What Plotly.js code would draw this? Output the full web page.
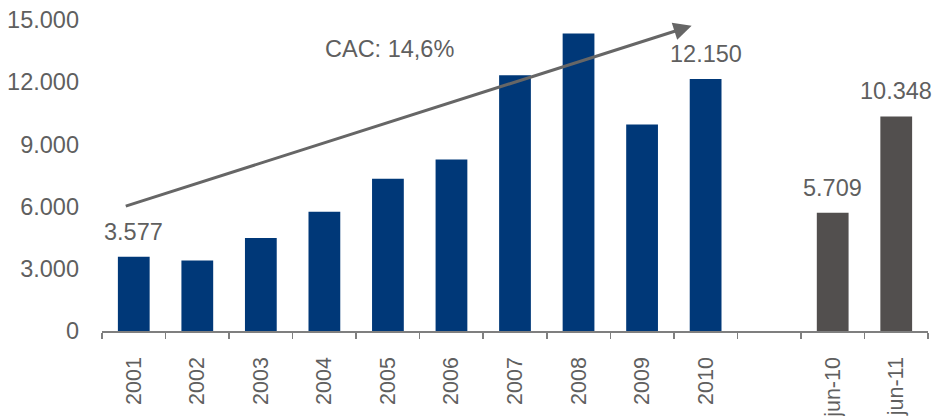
<!DOCTYPE html>
<html>
<head>
<meta charset="utf-8">
<script src="https://cdn.plot.ly/plotly-3.0.1.min.js"></script>
<style>html,body{margin:0;padding:0;background:#fff;}#chart{width:933px;height:416px;}</style>
</head>
<body>
<div id="chart"></div>
<script>
// Categories (the blank " " category is the gap in the reference)
const annualYears = ["2001","2002","2003","2004","2005","2006","2007","2008","2009","2010"];
const annualValues = [3577, 3404, 4489, 5748, 7346, 8266, 12334, 14349, 9961, 12150];
const gapCategory = [" "];
const midYearLabels = ["jun-10","jun-11"];
const midYearValues = [5709, 10348];
const labelledCategories = ["2001","2010","jun-10","jun-11"];
const labelledValues = [3577, 12150, 5709, 10348];
const yTickValues = [0, 3000, 6000, 9000, 12000, 15000];
const cagrText = "CAC: 14,6%";

const allCategories = annualYears.concat(gapCategory, midYearLabels);
const fontFam = "Liberation Sans, Arial, sans-serif";
const grey = "#5f5f5f";

const traces = [
  {type:"bar", x: annualYears, y: annualValues, marker:{color:"#003878", line:{width:0}}, hoverinfo:"none"},
  {type:"bar", x: midYearLabels, y: midYearValues, marker:{color:"#524f4e", line:{width:0}}, hoverinfo:"none"}
];

const fmt = v => v.toLocaleString("de-DE");

const annotations = labelledCategories.map((c,i)=>({
  x: allCategories.indexOf(c), y: labelledValues[i], xref:"x", yref:"y",
  text: fmt(labelledValues[i]), showarrow:false, yanchor:"bottom", yshift:10,
  font:{family:fontFam, size:23.5, color:grey}
}));
annotations.push({
  x: 8.78, y: 14720, xref:"x", yref:"y", ax: -0.15, ay: 6000, axref:"x", ayref:"y",
  text:"", showarrow:true, arrowhead:2, arrowsize:1.2, arrowwidth:3, arrowcolor:"#666666"
});
annotations.push({
  x: 4.03, y: 13600, xref:"x", yref:"y", text: cagrText, showarrow:false,
  font:{family:fontFam, size:23.5, color:grey}
});

const layout = {
  width:933, height:416,
  margin:{l:102, r:5, t:20, b:85, autoexpand:false},
  paper_bgcolor:"#fff", plot_bgcolor:"#fff",
  showlegend:false, bargap:0.5, barmode:"group",
  separators:",.",
  xaxis:{type:"category", categoryorder:"array", categoryarray: allCategories,
    range:[-0.5, allCategories.length-0.5],
    showline:true, linecolor:"#7f7f7f", linewidth:1.5,
    ticks:"outside", tickson:"boundaries", ticklen:6, tickcolor:"#7f7f7f", tickwidth:1.5,
    tickangle:-90, ticklabelstandoff:16, automargin:false,
    tickfont:{family:fontFam, size:21.5, color:grey}, showgrid:false, zeroline:false, fixedrange:true},
  yaxis:{range:[0,15000], tickvals: yTickValues, tickformat:",d",
    showline:false, showgrid:false, zeroline:false, ticks:"", ticklabelstandoff:22, automargin:false,
    tickfont:{family:fontFam, size:23.5, color:grey}, fixedrange:true},
  annotations: annotations
};

Plotly.newPlot("chart", traces, layout, {displayModeBar:false, staticPlot:true});
</script>
</body>
</html>
